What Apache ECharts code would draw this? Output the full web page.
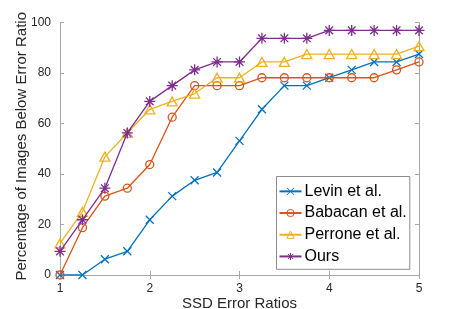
<!DOCTYPE html>
<html><head><meta charset="utf-8">
<script src="https://cdn.jsdelivr.net/npm/echarts@6/dist/echarts.min.js"></script>
<style>html,body{margin:0;padding:0;background:#fff}#c{width:463px;height:309px}</style>
</head><body><div id="c"></div>
<script>
const ratios = [1, 1.25, 1.5, 1.75, 2, 2.25, 2.5, 2.75, 3, 3.25, 3.5, 3.75, 4, 4.25, 4.5, 4.75, 5];
const levin = [0, 0, 6.25, 9.375, 21.875, 31.25, 37.5, 40.625, 53.125, 65.625, 75, 75, 78.125, 81.25, 84.375, 84.375, 87.5];
const babacan = [0, 18.75, 31.25, 34.375, 43.75, 62.5, 75, 75, 75, 78.125, 78.125, 78.125, 78.125, 78.125, 78.125, 81.25, 84.375];
const perrone = [12.5, 25, 46.875, 56.25, 65.625, 68.75, 71.875, 78.125, 78.125, 84.375, 84.375, 87.5, 87.5, 87.5, 87.5, 87.5, 90.625];
const ours = [9.375, 21.875, 34.375, 56.25, 68.75, 75, 81.25, 84.375, 84.375, 93.75, 93.75, 93.75, 96.875, 96.875, 96.875, 96.875, 96.875];
const seriesNames = ['Levin et al.', 'Babacan et al.', 'Perrone et al.', 'Ours'];
const xTicks = [1, 2, 3, 4, 5];
const yTicks = [0, 20, 40, 60, 80, 100];

const colors = ['#0072BD', '#D95319', '#EDB120', '#7E2F8E'];
const symbols = [
  'path://M0,0L10,10M10,0L0,10',
  'path://M10,5A5,5 0 1 1 0,5A5,5 0 1 1 10,5Z',
  'path://M5,0L10,9L0,9Z',
  'path://M5,0L5,10M0,5L10,5M1.5,1.5L8.5,8.5M8.5,1.5L1.5,8.5'
];
const sizes = [8, 8, [10, 9], 11];
const font = 'Liberation Sans, Arial, Helvetica, sans-serif';
const zip = arr => ratios.map((x, i) => [x, arr[i]]);
const allData = [levin, babacan, perrone, ours];

const axisCol = '#a6a6a6';
const chart = echarts.init(document.getElementById('c'));
chart.setOption({
  animation: false,
  grid: { left: 60, right: 44, top: 22.5, bottom: 34, show: false, containLabel: false, outerBoundsMode: 'none' },
  xAxis: [
    { type: 'value', min: xTicks[0], max: xTicks[xTicks.length-1], interval: 1, position: 'bottom',
      name: 'SSD Error Ratios', nameLocation: 'middle', nameGap: 21, nameMoveOverlap: false,
      nameTextStyle: { fontFamily: font, fontSize: 15, color: '#262626' },
      axisLine: { lineStyle: { color: axisCol, width: 1 } },
      axisTick: { inside: true, length: 4, lineStyle: { color: axisCol } },
      axisLabel: { fontFamily: font, fontSize: 12, color: '#262626', margin: 8 },
      splitLine: { show: false } },
    { type: 'value', min: xTicks[0], max: xTicks[xTicks.length-1], interval: 1, position: 'top',
      axisLine: { lineStyle: { color: axisCol, width: 1 } },
      axisTick: { inside: true, length: 4, lineStyle: { color: axisCol } },
      axisLabel: { show: false }, splitLine: { show: false } }
  ],
  yAxis: [
    { type: 'value', min: yTicks[0], max: yTicks[yTicks.length-1], interval: 20, position: 'left',
      name: 'Percentage of Images Below Error Ratio', nameLocation: 'middle', nameGap: 31, nameRotate: 90, nameMoveOverlap: false,
      nameTextStyle: { fontFamily: font, fontSize: 15, color: '#262626', padding: [0, 0, 0, 5] },
      axisLine: { show: true, lineStyle: { color: axisCol, width: 1 } },
      axisTick: { show: true, inside: true, length: 4, lineStyle: { color: axisCol } },
      axisLabel: { fontFamily: font, fontSize: 12, color: '#262626', margin: 9 },
      splitLine: { show: false } },
    { type: 'value', min: yTicks[0], max: yTicks[yTicks.length-1], interval: 20, position: 'right',
      axisLine: { show: true, lineStyle: { color: axisCol, width: 1 } },
      axisTick: { show: true, inside: true, length: 4, lineStyle: { color: axisCol } },
      axisLabel: { show: false }, splitLine: { show: false } }
  ],
  legend: {
    orient: 'vertical', left: 276.5, top: 176.5,
    data: seriesNames,
    backgroundColor: '#fff', borderColor: '#8c8c8c', borderWidth: 1,
    padding: [4, 3, 2, 2], itemGap: 0, itemWidth: 22, itemHeight: 9,
    itemStyle: { borderWidth: 1 },
    textStyle: { fontFamily: font, fontSize: 16, color: '#000', lineHeight: 21.7, padding: [0, 0, 0, -2] }
  },
  series: seriesNames.map((n, i) => ({
    name: n, type: 'line', xAxisIndex: 0, yAxisIndex: 0,
    data: zip(allData[i]),
    symbol: symbols[i], symbolSize: sizes[i], showAllSymbol: true,
    lineStyle: { color: colors[i], width: 1.3 },
    itemStyle: { color: 'rgba(0,0,0,0)', borderColor: colors[i], borderWidth: 1.3 },
    z: 2 + i
  }))
});
</script></body></html>
